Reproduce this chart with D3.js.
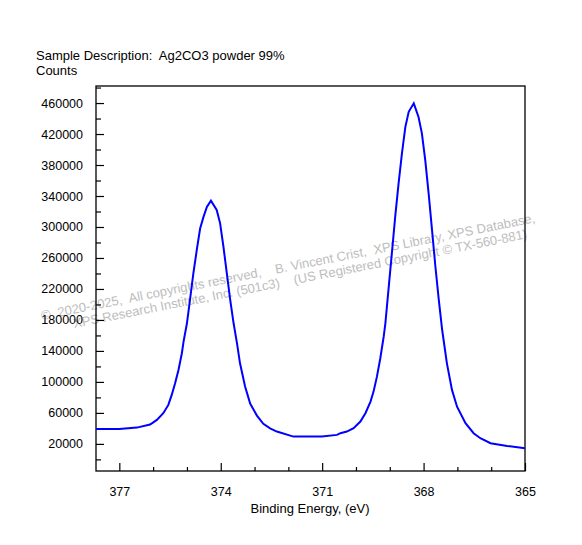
<!DOCTYPE html>
<html>
<head>
<meta charset="utf-8">
<script src="https://cdn.jsdelivr.net/npm/d3@7"></script>
<style>
  body { margin: 0; background: #fff; }
  text { font-family: "Liberation Sans", Arial, sans-serif; white-space: pre; }
</style>
</head>
<body>
<div id="chart-area"></div>
<script>

// SVG Size
var width = 582,
    height = 545;

// Spectrum
var bindingEnergy = [377.69, 377.00, 376.83, 376.48, 376.09, 375.89, 375.70, 375.55, 375.45, 375.35,
  375.25, 375.15, 375.10, 375.00, 374.91, 374.81, 374.71, 374.61, 374.51, 374.41,
  374.29, 374.12, 374.02, 373.92, 373.82, 373.72, 373.62, 373.52, 373.43, 373.28,
  373.13, 372.93, 372.74, 372.54, 372.34, 371.85, 371.01, 370.56, 370.46, 370.27,
  370.07, 369.87, 369.72, 369.57, 369.48, 369.38, 369.28, 369.18, 369.13, 369.03,
  368.93, 368.84, 368.74, 368.64, 368.54, 368.44, 368.29, 368.15, 368.05, 367.95,
  367.85, 367.75, 367.65, 367.55, 367.45, 367.31, 367.16, 367.01, 366.76, 366.52,
  366.32, 366.02, 365.53, 365.00];
var counts = [39300, 39300, 39800, 41000, 45000, 51000, 59600, 70300, 83200, 98300,
  115500, 137000, 152000, 175700, 205800, 240000, 270000, 298000, 313000, 326000,
  334000, 322000, 305000, 274500, 240000, 205800, 175700, 150000, 124000, 94000,
  72000, 56500, 46000, 40000, 35900, 29400, 29400, 31600, 33800, 35900,
  40200, 48800, 59600, 74600, 87500, 106800, 130600, 158400, 175700, 223000,
  270000, 313000, 356000, 395000, 429000, 448700, 459600, 442000, 420800, 386000,
  343000, 296000, 248700, 205800, 167000, 124000, 89700, 68000, 46700, 33800,
  27300, 20900, 17400, 14400];

var xMajorTicks = [377, 374, 371, 368, 365];
var yMajorTicks = [20000, 60000, 100000, 140000, 180000, 220000, 260000, 300000, 340000, 380000, 420000, 460000];

var titleText = "Sample Description:  Ag2CO3 powder 99%";
var yAxisTitle = "Counts";
var xAxisTitle = "Binding Energy, (eV)";
var watermark = [
  "©  2020-2025,  All copyrights reserved,    B. Vincent Crist,  XPS Library, XPS Database,",
  "XPS Research Institute, Inc. (501c3)    (US Registered Copyright © TX-560-881)"
];

var data = bindingEnergy.map(function(be, i) {
  return { be: be, counts: counts[i] };
});

var svg = d3.select("#chart-area").append("svg")
    .attr("width", width)
    .attr("height", height);

// Plot box
var plotLeft = 96, plotRight = 525, plotTop = 86, plotBottom = 471;

var x = d3.scaleLinear()
    .domain([377.69, 365])
    .range([plotLeft, plotRight]);

var y = d3.scaleLinear()
    .domain([-15000, 482000])
    .range([plotBottom, plotTop]);

// Watermark (behind the curve)
svg.append("g")
    .attr("transform", "translate(42,320) rotate(-11.2)")
    .selectAll("text")
    .data(watermark)
    .enter()
    .append("text")
    .attr("x", function(d, i) { return i * 30; })
    .attr("y", function(d, i) { return i * 14; })
    .attr("font-size", 13)
    .attr("fill", "#bdbdbd")
    .text(function(d) { return d; });

// Frame
svg.append("rect")
    .attr("x", plotLeft)
    .attr("y", plotTop)
    .attr("width", plotRight - plotLeft)
    .attr("height", plotBottom - plotTop)
    .attr("fill", "none")
    .attr("stroke", "#000")
    .attr("stroke-width", 1.3);

// Y axis: major and minor ticks pointing inward
var yAxis = d3.axisLeft(y)
    .tickValues(yMajorTicks)
    .tickSize(-8)
    .tickPadding(13)
    .tickFormat(d3.format("d"));

var yMinor = d3.axisLeft(y)
    .tickValues(d3.range(0, 482000, 20000).filter(function(v) { return yMajorTicks.indexOf(v) < 0; }))
    .tickSize(-5)
    .tickFormat("");

svg.append("g").attr("transform", "translate(" + plotLeft + ",0)").call(yMinor);
svg.append("g").attr("transform", "translate(" + plotLeft + ",0)").call(yAxis);

// X axis
var xAxis = d3.axisBottom(x)
    .tickValues(xMajorTicks)
    .tickSize(-8)
    .tickPadding(16)
    .tickFormat(d3.format("d"));

var xMinor = d3.axisBottom(x)
    .tickValues(d3.range(366, 378, 1).filter(function(v) { return xMajorTicks.indexOf(v) < 0; }))
    .tickSize(-4)
    .tickFormat("");

svg.append("g").attr("transform", "translate(0," + plotBottom + ")").call(xMinor);
svg.append("g").attr("transform", "translate(0," + plotBottom + ")").call(xAxis);

svg.selectAll(".domain").remove();
svg.selectAll(".tick line").attr("stroke", "#000").attr("stroke-width", 1.2);
svg.selectAll(".tick text")
    .attr("font-size", 12.5)
    .attr("font-family", "'Liberation Sans', Arial, sans-serif")
    .attr("fill", "#000");

// Titles
svg.append("text").attr("x", 36).attr("y", 59.5).attr("font-size", 13).text(titleText);
svg.append("text").attr("x", 36).attr("y", 75).attr("font-size", 13).text(yAxisTitle);
svg.append("text")
    .attr("x", 310)
    .attr("y", 513)
    .attr("text-anchor", "middle")
    .attr("font-size", 13)
    .text(xAxisTitle);

// Spectrum line
var line = d3.line()
    .x(function(d) { return x(d.be); })
    .y(function(d) { return y(d.counts); });

svg.append("path")
    .datum(data)
    .attr("d", line)
    .attr("fill", "none")
    .attr("stroke", "#0000ff")
    .attr("stroke-width", 2);

</script>
</body>
</html>
